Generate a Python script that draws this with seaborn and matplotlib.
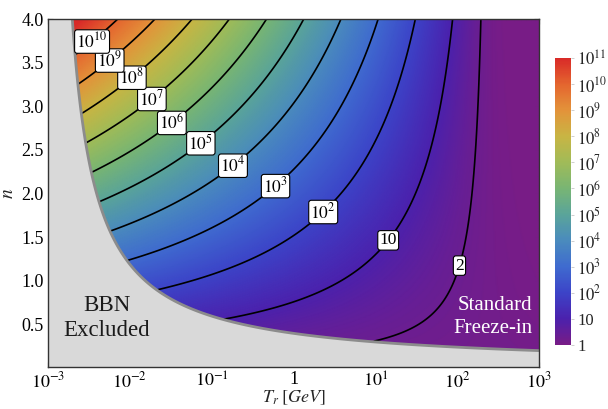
import numpy as np
import matplotlib
matplotlib.use("Agg")
import matplotlib.pyplot as plt
import seaborn as sns
from matplotlib.colors import Normalize
from matplotlib.cm import ScalarMappable
from matplotlib.ticker import FixedLocator, MultipleLocator, NullFormatter

# ---------------- data ----------------
T_range = [1e-3, 1e3]            # T_r axis range [GeV]
n_range = [0.01, 4.0]            # n axis range
T_scale = 250.0                  # GeV, enhancement -> 1 above this reheating scale
slope = 1.1                      # enhancement ~ (T_scale/T_r)^(slope*n/2)
T_bbn = 1e-3                     # GeV
bbn_factor = 15.4                # BBN bound: T_r > T_bbn * 15.4^(1/n)

contour_values = [2, 10, 1e2, 1e3, 1e4, 1e5, 1e6, 1e7, 1e8, 1e9, 1e10]
contour_texts = ["2", "10", "$10^{2}$", "$10^{3}$", "$10^{4}$", "$10^{5}$",
                 "$10^{6}$", "$10^{7}$", "$10^{8}$", "$10^{9}$", "$10^{10}$"]
label_T = [10**2.11, 10**1.12, 10**0.31, 10**-0.216, 10**-0.70, 10**-1.12,
           10**-1.48, 10**-1.72, 10**-1.96, 10**-2.26, 10**-2.53]
label_n = [1.15, 1.49, 1.84, 2.08, 2.27, 2.56, 2.80, 3.07, 3.31, 3.54, 3.82]

cbar_values = [1, 10, 1e2, 1e3, 1e4, 1e5, 1e6, 1e7, 1e8, 1e9, 1e10, 1e11]
cbar_labels = ["1", "10", "$10^{2}$", "$10^{3}$", "$10^{4}$", "$10^{5}$",
               "$10^{6}$", "$10^{7}$", "$10^{8}$", "$10^{9}$", "$10^{10}$",
               "$10^{11}$"]

x_ticks = [1e-3, 1e-2, 1e-1, 1, 1e1, 1e2, 1e3]
x_tick_labels = ["$10^{-3}$", "$10^{-2}$", "$10^{-1}$", "1",
                 "$10^{1}$", "$10^{2}$", "$10^{3}$"]
y_ticks = [0.5, 1.0, 1.5, 2.0, 2.5, 3.0, 3.5, 4.0]
y_tick_labels = ["0.5", "1.0", "1.5", "2.0", "2.5", "3.0", "3.5", "4.0"]

rainbow_colors = ["#781c86", "#4b21ad", "#3c44c8", "#3f6bcf", "#4a8bbd",
                  "#5aa49a", "#78b574", "#a0bb58", "#c8b544", "#e3933a",
                  "#e4662f", "#d92a28"]

# ---------------- style ----------------
sns.set_style("ticks")
plt.rcParams["font.family"] = ["Liberation Serif", "DejaVu Serif"]
plt.rcParams["mathtext.fontset"] = "stix"

cmap = sns.blend_palette(rainbow_colors, as_cmap=True)
vmin, vmax = 0.0, np.log10(cbar_values[-1])

fig = plt.figure(figsize=(6.08, 4.09), dpi=100)
ax = fig.add_axes([48 / 608, 1 - 367 / 409, 491 / 608, 348 / 409])
cax = fig.add_axes([555 / 608, 1 - 345 / 409, 16 / 608, 287 / 409])

# ---------------- field ----------------
Tg = np.logspace(np.log10(T_range[0]), np.log10(T_range[1]), 700)
ng = np.linspace(n_range[0], n_range[1], 500)
TT, NN = np.meshgrid(Tg, ng)
logf = 0.5 * np.log10(1.0 + (T_scale / TT) ** (slope * NN))
bbn = NN * np.log(TT / T_bbn) - np.log(bbn_factor)

ax.set_xscale("log")
ax.set_xlim(*T_range)
ax.set_ylim(*n_range)

ax.pcolormesh(TT, NN, logf, cmap=cmap, vmin=vmin, vmax=vmax,
              shading="gouraud", rasterized=True, zorder=1)

logf_allowed = np.ma.masked_where(bbn < 0, logf)
cs = ax.contour(TT, NN, logf_allowed, levels=np.log10(contour_values),
                colors="black", linewidths=1.2, zorder=3)

ax.contourf(TT, NN, bbn, levels=[bbn.min() - 1, 0], colors=["#d9d9d9"], zorder=4)
ax.contour(TT, NN, bbn, levels=[0], colors=["#8c8c8c"], linewidths=2.0, zorder=5)

fmt = {lev: txt for lev, txt in zip(cs.levels, contour_texts)}
texts = ax.clabel(cs, fmt=fmt, manual=list(zip(label_T, label_n)),
                  inline=False, fontsize=12.5, zorder=6)
for t in texts:
    t.set_rotation(0)
    t.set_bbox(dict(boxstyle="round,pad=0.1,rounding_size=0.15",
                    fc="white", ec="black", lw=0.8))

ax.text(0.120, 0.141, "BBN\nExcluded", transform=ax.transAxes,
        ha="center", va="center", fontsize=16.5, linespacing=1.2,
        color="#1a1a1a", zorder=7)
ax.text(0.986, 0.143, "Standard\nFreeze-in", transform=ax.transAxes,
        ha="right", va="center", multialignment="right", fontsize=15,
        linespacing=1.25, color="white", zorder=7)

# ---------------- axes formatting ----------------
ax.xaxis.set_major_locator(FixedLocator(x_ticks))
ax.set_xticklabels(x_tick_labels)
ax.xaxis.set_minor_locator(matplotlib.ticker.LogLocator(base=10, subs=np.arange(2, 10)))
ax.xaxis.set_minor_formatter(NullFormatter())
ax.set_yticks(y_ticks)
ax.set_yticklabels(y_tick_labels)
ax.yaxis.set_minor_locator(MultipleLocator(0.1))

ax.tick_params(which="both", direction="in", top=True, right=True,
               colors="#333333", labelcolor="black", labelsize=13)
ax.tick_params(which="major", length=3.8, width=0.8)
ax.tick_params(which="minor", length=1.9, width=0.6)
ax.tick_params(axis="x", pad=3)
ax.tick_params(axis="y", pad=3)
for s in ax.spines.values():
    s.set_color("#333333")
    s.set_linewidth(1.0)
    s.set_zorder(8)

ax.set_xlabel("$T_r\\;[GeV]$", fontsize=13, labelpad=-2)
ax.set_ylabel("$n$", fontsize=14, labelpad=3)

# ---------------- colorbar ----------------
sm = ScalarMappable(norm=Normalize(vmin, vmax), cmap=cmap)
cb = fig.colorbar(sm, cax=cax)
cb.set_ticks(np.log10(cbar_values))
cb.set_ticklabels(cbar_labels)
cb.outline.set_visible(False)
cax.tick_params(direction="out", length=2.5, width=0.5, color="#bbbbbb",
                labelsize=12, pad=2)
cax.minorticks_off()

fig.savefig("out.png", dpi=100)
